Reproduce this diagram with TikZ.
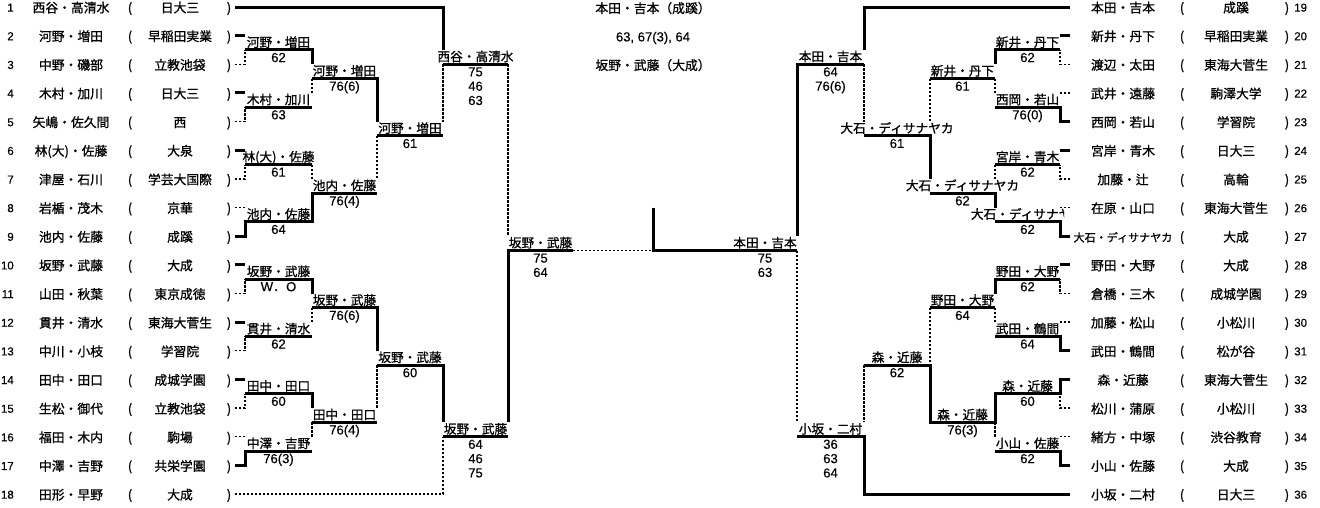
\documentclass[tikz,border=0pt]{standalone}
\usepackage{fontspec}
\setmainfont{Noto Sans CJK JP}[FakeBold=0.9]
\newfontfamily\arial{Liberation Sans}[FakeBold=0.4]
\newcommand\res[5]{%
  \node[lbl] (#1) at (#2,{#3-0.21}) {#4};
  \foreach \s [count=\i] in {#5} {\node[scr] (#1s\i) at (#2,{#3+0.84+\i-1}) {\s};}%
}
\newcommand\lrow[3]{%
  \pgfmathtruncatemacro\kk{2*(#1-1)}%
  \node[num,anchor=base east] (ln#1) at (14,{\kk+0.32}) {#1};
  \node[txt] (lname#1) at (71,{\kk+0.38}) {#2};
  \node[txt] (lpo#1) at (130,{\kk+0.38}) {(};
  \node[txt] (lsch#1) at (180,{\kk+0.38}) {#3};
  \node[txt] (lpc#1) at (229,{\kk+0.38}) {)};
}
\newcommand\rrow[3]{%
  \pgfmathtruncatemacro\kk{2*(#1-19)}%
  \node[txt] (rname#1) at (1123,{\kk+0.38}) {#2};
  \node[txt] (rpo#1) at (1182,{\kk+0.38}) {(};
  \node[txt] (rsch#1) at (1236,{\kk+0.38}) {#3};
  \node[txt] (rpc#1) at (1287,{\kk+0.38}) {)};
  \node[num,anchor=base west] (rn#1) at (1294,{\kk+0.32}) {#1};
}
\begin{document}
\begin{tikzpicture}[x=0.75pt,y=-0.75pt,
  win/.style={line width=2.25pt, line join=miter},
  lose/.style={line width=1pt, dash pattern=on 1.8pt off 1.2pt},
  lbl/.style={anchor=base, inner sep=0pt, font=\fontsize{9.5pt}{11pt}\selectfont},
  scr/.style={anchor=base, inner sep=0pt, font=\arial\fontsize{9.8pt}{11pt}\selectfont},
  txt/.style={anchor=base, inner sep=0pt, font=\fontsize{9.6pt}{11pt}\selectfont},
  num/.style={inner sep=0pt, font=\arial\fontsize{8.6pt}{10pt}\selectfont}]
\useasboundingbox (0,0) rectangle (1320,507);
\fill[white] (0,0) rectangle (1320,507);
\begin{scope}[yshift=-5.25pt, y=-10.74375pt]
% ---------- player lists ----------
\lrow{1}{西谷・高清水}{日大三}
\lrow{2}{河野・増田}{早稲田実業}
\lrow{3}{中野・磯部}{立教池袋}
\lrow{4}{木村・加川}{日大三}
\lrow{5}{矢嶋・佐久間}{西}
\lrow{6}{林(大)・佐藤}{大泉}
\lrow{7}{津屋・石川}{学芸大国際}
\lrow{8}{岩楯・茂木}{京華}
\lrow{9}{池内・佐藤}{成蹊}
\lrow{10}{坂野・武藤}{大成}
\lrow{11}{山田・秋葉}{東京成徳}
\lrow{12}{貫井・清水}{東海大菅生}
\lrow{13}{中川・小枝}{学習院}
\lrow{14}{田中・田口}{成城学園}
\lrow{15}{生松・御代}{立教池袋}
\lrow{16}{福田・木内}{駒場}
\lrow{17}{中澤・吉野}{共栄学園}
\lrow{18}{田形・早野}{大成}
\rrow{19}{本田・吉本}{成蹊}
\rrow{20}{新井・丹下}{早稲田実業}
\rrow{21}{渡辺・太田}{東海大菅生}
\rrow{22}{武井・遠藤}{駒澤大学}
\rrow{23}{西岡・若山}{学習院}
\rrow{24}{宮岸・青木}{日大三}
\rrow{25}{加藤・辻}{高輪}
\rrow{26}{在原・山口}{東海大菅生}
\rrow{27}{{\fontsize{8.3pt}{10pt}\selectfont 大石・ディサナヤカ}}{大成}
\rrow{28}{野田・大野}{大成}
\rrow{29}{倉橋・三木}{成城学園}
\rrow{30}{加藤・松山}{小松川}
\rrow{31}{武田・鶴間}{松が谷}
\rrow{32}{森・近藤}{東海大菅生}
\rrow{33}{松川・蒲原}{小松川}
\rrow{34}{緒方・中塚}{渋谷教育}
\rrow{35}{小山・佐藤}{大成}
\rrow{36}{小坂・二村}{日大三}
% ---------- centre result ----------
\node[txt] (champ) at (653,0.42) {本田・吉本（成蹊）};
\node[scr] (fscore) at (653,2.40) {63, 67(3), 64};
\node[txt] (runner) at (653,4.40) {坂野・武藤（大成）};
% ---------- left bracket lines ----------
\draw[win] (235,0) -- (443,0) -- (443,3);
\draw[win] (443,4) -- (508,4);
\draw[lose] (443,4) -- (443,8);
\draw[lose] (508,4) -- (508,16);
\draw[win] (235,2) -- (245,2);
\draw[lose] (235,4) -- (245,4) -- (245,3);
\draw[win] (245,3) -- (312,3) -- (312,4);
\draw[win] (235,6) -- (245,6);
\draw[lose] (235,8) -- (245,8) -- (245,7);
\draw[win] (245,7) -- (312,7);
\draw[lose] (312,5) -- (312,6);
\draw[win] (312,5) -- (377,5) -- (377,8);
\draw[win] (377,9) -- (443,9);
\draw[lose] (377,9) -- (377,12);
\draw[win] (235,10) -- (245,10);
\draw[lose] (235,12) -- (245,12) -- (245,11);
\draw[win] (245,11) -- (312,11);
\draw[lose] (312,11) -- (312,12);
\draw[lose] (235,14) -- (245,14);
\draw[win] (235,16) -- (245,16) -- (245,15) -- (312,15) -- (312,13) -- (377,13);
\draw[win] (235,18) -- (245,18);
\draw[lose] (235,20) -- (245,20) -- (245,19);
\draw[win] (245,19) -- (312,19) -- (312,20);
\draw[win] (235,22) -- (245,22);
\draw[lose] (235,24) -- (245,24) -- (245,23);
\draw[win] (245,23) -- (312,23);
\draw[lose] (312,21) -- (312,22);
\draw[win] (312,21) -- (377,21) -- (377,24);
\draw[win] (235,26) -- (245,26);
\draw[lose] (235,28) -- (245,28) -- (245,27);
\draw[win] (245,27) -- (312,27) -- (312,28);
\draw[lose] (235,30) -- (245,30);
\draw[win] (235,32) -- (245,32) -- (245,31) -- (312,31);
\draw[lose] (312,29) -- (312,30);
\draw[win] (312,29) -- (377,29);
\draw[lose] (377,25) -- (377,28);
\draw[win] (377,25) -- (443,25) -- (443,29);
\draw[lose] (235,34) -- (443,34) -- (443,30);
\draw[win] (443,30) -- (508,30);
\draw[win] (508,29) -- (508,17) -- (573,17);
% ---------- final ----------
\draw[lose] (573,17) -- (653,17);
\draw[win] (653,14) -- (653,17);
\draw[win] (652,17) -- (797,17);
% ---------- right bracket lines ----------
\draw[win] (1070,0) -- (864,0) -- (864,3);
\draw[win] (864,4) -- (797,4) -- (797,16);
\draw[lose] (797,17) -- (797,29);
\draw[lose] (864,4) -- (864,8);
\draw[win] (864,9) -- (930,9) -- (930,12);
\draw[lose] (930,5) -- (930,8);
\draw[win] (930,5) -- (995,5);
\draw[win] (995,4) -- (995,3) -- (1060,3);
\draw[win] (1060,2) -- (1070,2);
\draw[lose] (1070,4) -- (1060,4) -- (1060,3);
\draw[win] (995,7) -- (1060,7) -- (1060,8) -- (1070,8);
\draw[lose] (1060,6) -- (1070,6);
\draw[lose] (995,5) -- (995,6);
\draw[win] (930,13) -- (995,13) -- (995,14);
\draw[win] (995,11) -- (1060,11);
\draw[win] (1060,10) -- (1070,10);
\draw[lose] (1070,12) -- (1060,12) -- (1060,11);
\draw[lose] (995,11) -- (995,12);
\draw[win] (995,15) -- (1060,15) -- (1060,16) -- (1070,16);
\draw[lose] (1060,14) -- (1070,14);
\draw[win] (797,30) -- (864,30) -- (864,34) -- (1070,34);
\draw[lose] (864,25) -- (864,29);
\draw[win] (864,25) -- (930,25) -- (930,29) -- (995,29) -- (995,27) -- (1060,27) -- (1060,26) -- (1070,26);
\draw[lose] (930,21) -- (930,25);
\draw[win] (930,21) -- (995,21);
\draw[win] (995,20) -- (995,19) -- (1060,19);
\draw[win] (1060,18) -- (1070,18);
\draw[lose] (1070,20) -- (1060,20) -- (1060,19);
\draw[win] (995,23) -- (1060,23) -- (1060,24) -- (1070,24);
\draw[lose] (1060,22) -- (1070,22);
\draw[lose] (995,21) -- (995,22);
\draw[lose] (1070,28) -- (1060,28) -- (1060,27);
\draw[win] (995,31) -- (1060,31) -- (1060,32) -- (1070,32);
\draw[lose] (1060,30) -- (1070,30);
\draw[lose] (995,29) -- (995,30);
% ---------- left labels ----------
\res{a1}{278.5}{3}{河野・増田}{62}
\res{a2}{278.5}{7}{木村・加川}{63}
\res{a3}{278.5}{11}{林(大)・佐藤}{61}
\res{a4}{278.5}{15}{池内・佐藤}{64}
\res{a5}{278.5}{19}{坂野・武藤}{W{\rmfamily ．}O}
\res{a6}{278.5}{23}{貫井・清水}{62}
\res{a7}{278.5}{27}{田中・田口}{60}
\res{a8}{278.5}{31}{中澤・吉野}{76(3)}
\res{b1}{344.5}{5}{河野・増田}{76(6)}
\res{b2}{344.5}{13}{池内・佐藤}{76(4)}
\res{b3}{344.5}{21}{坂野・武藤}{76(6)}
\res{b4}{344.5}{29}{田中・田口}{76(4)}
\res{c1}{410}{9}{河野・増田}{61}
\res{c2}{410}{25}{坂野・武藤}{60}
\res{d1}{475.5}{4}{西谷・高清水}{75,46,63}
\res{d2}{475.5}{30}{坂野・武藤}{64,46,75}
\res{e1}{540.5}{17}{坂野・武藤}{75,64}
% ---------- right labels ----------
\res{f1}{765}{17}{本田・吉本}{75,63}
\res{g1}{830.5}{4}{本田・吉本}{64,76(6)}
\res{g2}{830.5}{30}{小坂・二村}{36,63,64}
\res{h1}{897}{9}{大石・ディサナヤカ}{61}
\res{h2}{897}{25}{森・近藤}{62}
\res{i1}{962.5}{5}{新井・丹下}{61}
\res{i2}{962.5}{13}{大石・ディサナヤカ}{62}
\res{i3}{962.5}{21}{野田・大野}{64}
\res{i4}{962.5}{29}{森・近藤}{76(3)}
\res{j1}{1027.5}{3}{新井・丹下}{62}
\res{j2}{1027.5}{7}{西岡・若山}{76(0)}
\res{j3}{1027.5}{11}{宮岸・青木}{62}
\begin{scope}
\clip (950,13) rectangle (1064,15);
\node[lbl] (j4) at (1027.5,{15-0.21}) {大石・ディサナヤカ};
\end{scope}
\node[scr] (j4s1) at (1027.5,15.84) {62};
\res{j5}{1027.5}{19}{野田・大野}{62}
\res{j6}{1027.5}{23}{武田・鶴間}{64}
\res{j7}{1027.5}{27}{森・近藤}{60}
\res{j8}{1027.5}{31}{小山・佐藤}{62}
\end{scope}
\end{tikzpicture}
\end{document}
